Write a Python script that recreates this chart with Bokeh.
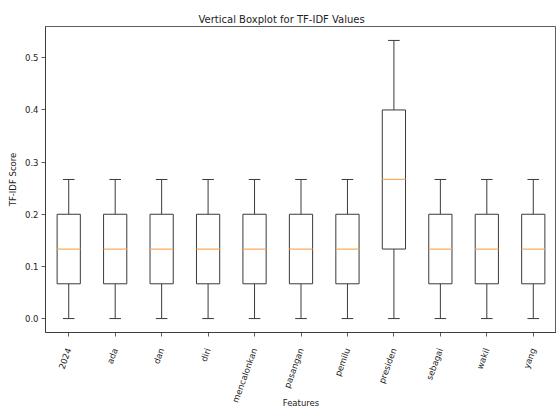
from bokeh.plotting import figure
from bokeh.models import ColumnDataSource, Range1d, FixedTicker, NumeralTickFormatter
from bokeh.transform import dodge
from bokeh.embed import file_html
from bokeh.resources import INLINE
import math

features = ["2024", "ada", "dan", "diri", "mencalonkan", "pasangan", "pemilu",
            "presiden", "sebagai", "wakil", "yang"]
whisker_low = [0.0, 0.0, 0.0, 0.0, 0.0, 0.0, 0.0, 0.0, 0.0, 0.0, 0.0]
q1 = [0.0667, 0.0667, 0.0667, 0.0667, 0.0667, 0.0667, 0.0667, 0.1333, 0.0667, 0.0667, 0.0667]
median = [0.1333, 0.1333, 0.1333, 0.1333, 0.1333, 0.1333, 0.1333, 0.2667, 0.1333, 0.1333, 0.1333]
q3 = [0.2, 0.2, 0.2, 0.2, 0.2, 0.2, 0.2, 0.4, 0.2, 0.2, 0.2]
whisker_high = [0.2667, 0.2667, 0.2667, 0.2667, 0.2667, 0.2667, 0.2667, 0.5333, 0.2667, 0.2667, 0.2667]
y_ticks = [0.0, 0.1, 0.2, 0.3, 0.4, 0.5]

FONT = "DejaVu Sans"
TICK_PX = 8.5
W, H = 556, 410

pos = list(range(1, len(features) + 1))
src = ColumnDataSource(dict(pos=pos, feat=features, lo=whisker_low, q1=q1, med=median,
                            q3=q3, hi=whisker_high))

p = figure(width=W, height=H, output_backend="svg", toolbar_location=None,
           x_range=Range1d(0.5, len(features) + 0.5),
           y_range=Range1d(-0.0267, 0.56),
           min_border_left=45, min_border_right=0, min_border_top=26, min_border_bottom=77,
           title="Vertical Boxplot for TF-IDF Values")

p.title.text_font = FONT
p.title.text_font_size = "10px"
p.title.text_font_style = "normal"
p.title.text_color = "#222222"
p.title.align = "left"
p.title.offset = 153
p.title.standoff = 4

p.background_fill_color = "white"
p.border_fill_color = "white"
p.outline_line_color = "#333333"
p.outline_line_width = 0.8
p.xgrid.grid_line_color = None
p.ygrid.grid_line_color = None

lc = "#3a3a3a"
# whiskers
p.segment(x0="pos", y0="q3", x1="pos", y1="hi", source=src, line_color=lc, line_width=1)
p.segment(x0="pos", y0="lo", x1="pos", y1="q1", source=src, line_color=lc, line_width=1)
# caps
p.segment(x0=dodge("pos", -0.125), y0="hi", x1=dodge("pos", 0.125), y1="hi",
          source=src, line_color=lc, line_width=1)
p.segment(x0=dodge("pos", -0.125), y0="lo", x1=dodge("pos", 0.125), y1="lo",
          source=src, line_color=lc, line_width=1)
# boxes
p.vbar(x="pos", bottom="q1", top="q3", width=0.5, source=src,
       fill_color="white", line_color=lc, line_width=1)
# medians
p.segment(x0=dodge("pos", -0.25), y0="med", x1=dodge("pos", 0.25), y1="med",
          source=src, line_color="#ffab60", line_width=1.2)

for ax in (p.xaxis[0], p.yaxis[0]):
    ax.axis_line_color = "#333333"
    ax.axis_line_width = 0.8
    ax.major_tick_line_color = "#333333"
    ax.major_tick_line_width = 0.8
    ax.major_tick_out = 4
    ax.major_tick_in = 0
    ax.minor_tick_line_color = None
    ax.major_label_text_font = FONT
    ax.major_label_text_font_size = f"{TICK_PX}px"
    ax.major_label_text_color = "#222222"
    ax.axis_label_text_font = FONT
    ax.axis_label_text_font_size = f"{TICK_PX}px"
    ax.axis_label_text_font_style = "normal"
    ax.axis_label_text_color = "#222222"

p.yaxis.ticker = FixedTicker(ticks=y_ticks)
p.yaxis.formatter = NumeralTickFormatter(format="0.0")
p.yaxis.axis_label = "TF-IDF Score"
p.yaxis.major_label_standoff = 3
p.yaxis.axis_label_standoff = 4

p.xaxis.ticker = FixedTicker(ticks=pos)
p.xaxis.major_label_overrides = dict(zip(pos, features))
p.xaxis.major_label_orientation = math.radians(70)
p.xaxis.major_label_standoff = 12
p.xaxis.axis_label = "Features"
p.xaxis.axis_label_standoff = -11

open("out.html", "w").write(file_html(p, INLINE))
